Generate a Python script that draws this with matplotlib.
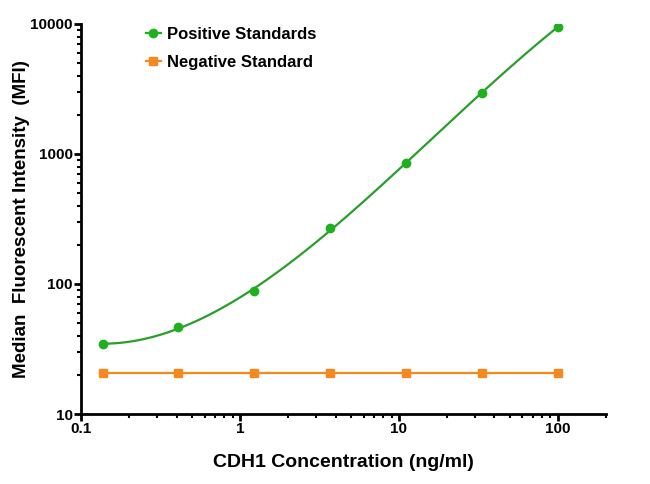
import numpy as np
import matplotlib
matplotlib.use("Agg")
import matplotlib.pyplot as plt
from matplotlib.ticker import LogLocator, FixedLocator, FixedFormatter, NullFormatter

conc = [0.137, 0.41, 1.23, 3.7, 11.1, 33.3, 100]
positive = [34.5, 46.7, 88, 268, 847, 2945, 9480]
negative = [20.8, 20.8, 20.8, 20.8, 20.8, 20.8, 20.8]
xticks = [0.1, 1, 10, 100]
xticklabels = ["0.1", "1", "10", "100"]
yticks = [10, 100, 1000, 10000]
yticklabels = ["10", "100", "1000", "10000"]

plt.rcParams['font.family'] = ['Liberation Sans', 'DejaVu Sans']
fig = plt.figure(figsize=(6.5, 4.84), dpi=100)
ax = fig.add_axes([0.1246, 0.1446, 0.807, 0.806])

lx = np.log10(conc); ly = np.log10(positive)
coef = np.polyfit(lx, ly, 4)
xs = np.linspace(lx[0], lx[-1], 300)
ys = np.polyval(coef, xs)
green_line = '#2a9d2a'
green = '#1fb01f'
orange = '#f5891f'
ax.plot(10 ** xs, 10 ** ys, color=green_line, lw=1.6, zorder=2)
ax.plot(conc, positive, 'o', color=green, ms=6, zorder=3)
ax.plot(conc, negative, '-', color=orange, lw=1.6, zorder=2)
ax.plot(conc, negative, 's', color=orange, ms=6, zorder=3)

h1, = ax.plot([], [], '-o', color=green, lw=1.6, ms=6)
h2, = ax.plot([], [], '-s', color=orange, lw=1.6, ms=6)
leg = ax.legend([h1, h2], ["Positive Standards", "Negative Standard"], loc='upper left',
                bbox_to_anchor=(0.095, 1.03), frameon=False, handlelength=0.9,
                prop={'weight': 'bold', 'size': 12}, labelspacing=0.75, handletextpad=0.4)

ax.set_xscale('log'); ax.set_yscale('log')
ax.set_xlim(0.1, 200); ax.set_ylim(10, 10000)
ax.xaxis.set_major_locator(FixedLocator(xticks))
ax.xaxis.set_major_formatter(FixedFormatter(xticklabels))
ax.yaxis.set_major_locator(FixedLocator(yticks))
ax.yaxis.set_major_formatter(FixedFormatter(yticklabels))
ax.xaxis.set_minor_locator(LogLocator(base=10, subs=np.arange(2, 10), numticks=20))
ax.yaxis.set_minor_locator(LogLocator(base=10, subs=np.arange(2, 10), numticks=20))
ax.xaxis.set_minor_formatter(NullFormatter()); ax.yaxis.set_minor_formatter(NullFormatter())
for s in ['top', 'right']:
    ax.spines[s].set_visible(False)
for s in ['left', 'bottom']:
    ax.spines[s].set_linewidth(2)
ax.tick_params(which='major', direction='out', length=5, width=2, labelsize=11, pad=1)
ax.tick_params(which='minor', direction='out', length=3, width=1.5)
for lab in ax.get_xticklabels() + ax.get_yticklabels():
    lab.set_fontweight('bold')
ax.set_xlabel("CDH1 Concentration (ng/ml)", fontsize=14, fontweight='bold', labelpad=13)
ax.set_ylabel("Median  Fluorescent Intensity  (MFI)", fontsize=13.5, fontweight='bold')
ax.yaxis.set_label_coords(-0.098, 0.5)
fig.savefig("out.png", dpi=100)
